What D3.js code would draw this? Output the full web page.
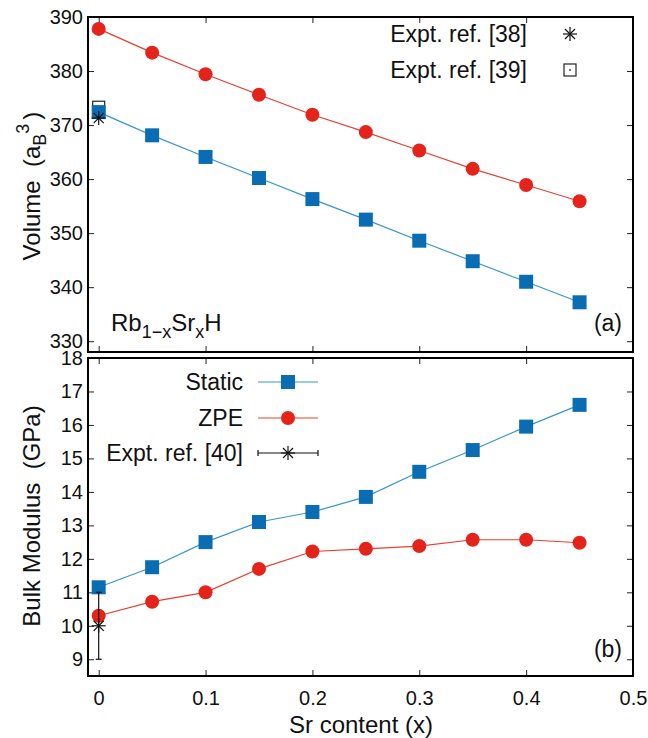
<!DOCTYPE html>
<html>
<head>
<meta charset="utf-8">
<script src="https://cdn.jsdelivr.net/npm/d3@7"></script>
<style>
  html, body { margin: 0; padding: 0; background: #fff; }
  svg text { font-family: "Liberation Sans", Arial, Helvetica, sans-serif; fill: #111; }
</style>
</head>
<body>
<svg id="chart" width="648" height="738"></svg>
<script>
// Sr content of Rb(1-x)Sr(x)H
const srContent = [0, 0.05, 0.1, 0.15, 0.2, 0.25, 0.3, 0.35, 0.4, 0.45];

// Equilibrium volume (aB^3)
const volumeStatic = [372.4, 368.1, 364.1, 360.2, 356.3, 352.5, 348.6, 344.8, 341.0, 337.2];
const volumeZPE    = [387.8, 383.4, 379.4, 375.6, 371.9, 368.7, 365.3, 361.9, 358.9, 355.9];
const volumeExpt38 = { x: 0, y: 371.3 };
const volumeExpt39 = { x: 0, y: 373.3 };

// Bulk modulus (GPa)
const bulkStatic = [11.15, 11.75, 12.5, 13.1, 13.4, 13.85, 14.6, 15.25, 15.95, 16.6];
const bulkZPE    = [10.3, 10.72, 11.0, 11.7, 12.22, 12.3, 12.38, 12.57, 12.57, 12.48];
const bulkExpt40 = { x: 0, y: 10.0, err: 1.0 };

const xTicks = [0, 0.1, 0.2, 0.3, 0.4, 0.5];
const volTicks = [330, 340, 350, 360, 370, 380, 390];
const bulkTicks = [9, 10, 11, 12, 13, 14, 15, 16, 17, 18];

const blue = "#0a6db3", blueLine = "#3a95d0";
const red = "#e4231b", redLine = "#e8402f";

const tickFont = "20px", legendFont = "23px", titleFont = "24px";

const svg = d3.select("#chart");
const left = 88, right = 633;
const x = d3.scaleLinear().domain([-0.01, 0.5]).range([left, right]);
const yV = d3.scaleLinear().domain([328, 390]).range([352, 17]);
const yB = d3.scaleLinear().domain([8.5, 18]).range([676, 358]);

const tickLen = 6;

function panel(y, yTicks, showXLabels) {
  const [y0, y1] = y.range();
  const g = svg.append("g");
  // inward ticks on all four sides
  g.append("g").attr("transform", `translate(0,${y0})`)
    .call(d3.axisBottom(x).tickValues(xTicks).tickSizeInner(-tickLen).tickSizeOuter(0)
      .tickFormat(showXLabels ? d3.format("") : () => ""))
    .call(a => { a.select(".domain").remove(); a.selectAll("text").attr("y", 29).attr("dy", 0).style("font-size", tickFont); });
  g.append("g").attr("transform", `translate(0,${y1})`)
    .call(d3.axisTop(x).tickValues(xTicks).tickSizeInner(-tickLen).tickSizeOuter(0).tickFormat(() => ""))
    .call(a => a.select(".domain").remove());
  g.append("g").attr("transform", `translate(${left},0)`)
    .call(d3.axisLeft(y).tickValues(yTicks).tickSizeInner(-tickLen).tickSizeOuter(0).tickPadding(5))
    .call(a => { a.select(".domain").remove(); a.selectAll("text").style("font-size", tickFont); });
  g.append("g").attr("transform", `translate(${right},0)`)
    .call(d3.axisRight(y).tickValues(yTicks).tickSizeInner(-tickLen).tickSizeOuter(0).tickFormat(() => ""))
    .call(a => a.select(".domain").remove());
  g.selectAll(".tick line").attr("stroke", "#222").attr("stroke-width", 1);
  g.append("rect").attr("x", left).attr("y", y1).attr("width", right - left).attr("height", y0 - y1)
    .attr("fill", "none").attr("stroke", "#000").attr("stroke-width", 2);
  return g;
}

function series(y, values, lineColor, markColor, shape) {
  const pts = srContent.map((s, i) => [x(s), y(values[i])]);
  svg.append("path").attr("d", d3.line()(pts)).attr("fill", "none")
    .attr("stroke", lineColor).attr("stroke-width", 1.2);
  pts.forEach(p => drawMarker(p[0], p[1], markColor, shape));
}

function drawMarker(cx, cy, color, shape) {
  if (shape === "square") {
    svg.append("rect").attr("x", cx - 7).attr("y", cy - 7).attr("width", 14).attr("height", 14).attr("fill", color);
  } else {
    svg.append("circle").attr("cx", cx).attr("cy", cy).attr("r", 7).attr("fill", color);
  }
}

// eight-armed asterisk: a plus overlaid with a cross
function star(cx, cy, r) {
  const g = svg.append("g").attr("stroke", "#111").attr("stroke-width", 1.2);
  const d = r * 0.72;
  g.append("line").attr("x1", cx - r).attr("x2", cx + r).attr("y1", cy).attr("y2", cy);
  g.append("line").attr("x1", cx).attr("x2", cx).attr("y1", cy - r).attr("y2", cy + r);
  g.append("line").attr("x1", cx - d).attr("x2", cx + d).attr("y1", cy - d).attr("y2", cy + d);
  g.append("line").attr("x1", cx - d).attr("x2", cx + d).attr("y1", cy + d).attr("y2", cy - d);
}

function openSquare(cx, cy) {
  svg.append("rect").attr("x", cx - 6).attr("y", cy - 6).attr("width", 12).attr("height", 12)
    .attr("fill", "none").attr("stroke", "#222").attr("stroke-width", 1.2);
  svg.append("rect").attr("x", cx - 0.8).attr("y", cy - 0.8).attr("width", 1.6).attr("height", 1.6).attr("fill", "#222");
}

// ---- top panel: volume ----
panel(yV, volTicks, false);
openSquare(x(volumeExpt39.x), yV(volumeExpt39.y));
series(yV, volumeZPE, redLine, red, "circle");
series(yV, volumeStatic, blueLine, blue, "square");
star(x(volumeExpt38.x), yV(volumeExpt38.y), 7);

svg.append("text").attr("x", 527).attr("y", 42).attr("text-anchor", "end").style("font-size", legendFont).text("Expt. ref. [38]");
star(570, 34, 7);
svg.append("text").attr("x", 527).attr("y", 78).attr("text-anchor", "end").style("font-size", legendFont).text("Expt. ref. [39]");
openSquare(570, 70);

const lab = svg.append("text").attr("x", 111).attr("y", 331).style("font-size", "24px");
lab.append("tspan").text("Rb");
lab.append("tspan").attr("dy", 7).style("font-size", "18px").text("1\u2212x");
lab.append("tspan").attr("dy", -7).text("Sr");
lab.append("tspan").attr("dy", 7).style("font-size", "18px").text("x");
lab.append("tspan").attr("dy", -7).text("H");
svg.append("text").attr("x", 622).attr("y", 331).attr("text-anchor", "end").style("font-size", "23px").text("(a)");

// y title: subscript B followed by superscript 3
const vt = svg.append("text").attr("transform", "translate(40,186) rotate(-90)").attr("text-anchor", "middle").style("font-size", titleFont);
vt.append("tspan").text("Volume\u00a0\u00a0(a");
vt.append("tspan").attr("dy", 6).style("font-size", "18px").text("B");
vt.append("tspan").attr("dy", -17).style("font-size", "18px").text("3");
vt.append("tspan").attr("dx", 4).attr("dy", 11).text(")");

// ---- bottom panel: bulk modulus ----
panel(yB, bulkTicks, true);
series(yB, bulkZPE, redLine, red, "circle");
series(yB, bulkStatic, blueLine, blue, "square");
{
  const ex = x(bulkExpt40.x);
  const g = svg.append("g").attr("stroke", "#111").attr("stroke-width", 1.2);
  g.append("line").attr("x1", ex).attr("x2", ex).attr("y1", yB(bulkExpt40.y - bulkExpt40.err)).attr("y2", yB(bulkExpt40.y + bulkExpt40.err));
  g.append("line").attr("x1", ex - 3).attr("x2", ex + 3).attr("y1", yB(bulkExpt40.y - bulkExpt40.err)).attr("y2", yB(bulkExpt40.y - bulkExpt40.err));
  g.append("line").attr("x1", ex - 3).attr("x2", ex + 3).attr("y1", yB(bulkExpt40.y + bulkExpt40.err)).attr("y2", yB(bulkExpt40.y + bulkExpt40.err));
  star(ex, yB(bulkExpt40.y), 7);
}

// legend
const legItems = [
  { label: "Static", y: 382, kind: "square" },
  { label: "ZPE", y: 418, kind: "circle" },
  { label: "Expt. ref. [40]", y: 453, kind: "err" }
];
legItems.forEach(it => {
  svg.append("text").attr("x", 243).attr("y", it.y + 8).attr("text-anchor", "end").style("font-size", legendFont).text(it.label);
  if (it.kind === "err") {
    const g = svg.append("g").attr("stroke", "#111").attr("stroke-width", 1.2);
    g.append("line").attr("x1", 258).attr("x2", 318).attr("y1", it.y).attr("y2", it.y);
    g.append("line").attr("x1", 258).attr("x2", 258).attr("y1", it.y - 3).attr("y2", it.y + 3);
    g.append("line").attr("x1", 318).attr("x2", 318).attr("y1", it.y - 3).attr("y2", it.y + 3);
    star(288, it.y, 7);
  } else {
    const lc = it.kind === "square" ? blueLine : redLine;
    const mc = it.kind === "square" ? blue : red;
    svg.append("line").attr("x1", 258).attr("x2", 318).attr("y1", it.y).attr("y2", it.y).attr("stroke", lc).attr("stroke-width", 1.2);
    drawMarker(288, it.y, mc, it.kind);
  }
});

svg.append("text").attr("x", 622).attr("y", 657).attr("text-anchor", "end").style("font-size", "23px").text("(b)");
svg.append("text").attr("transform", "translate(40,516) rotate(-90)").attr("text-anchor", "middle").style("font-size", titleFont).text("Bulk Modulus\u00a0\u00a0(GPa)");
svg.append("text").attr("x", 361).attr("y", 733).attr("text-anchor", "middle").style("font-size", titleFont).text("Sr content (x)");
</script>
</body>
</html>
